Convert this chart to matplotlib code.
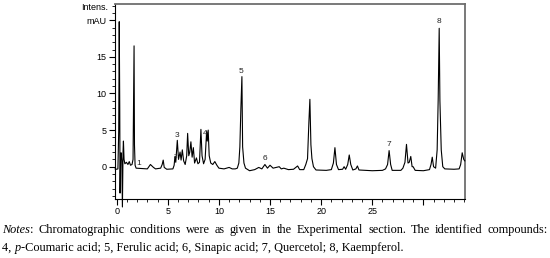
import matplotlib.pyplot as plt
from matplotlib.ticker import MultipleLocator, FixedLocator

# chromatogram trace (time in min, intensity in mAU)
trace_t = [-0.15, 0.0, 0.12, 0.2, 0.25, 0.30, 0.33, 0.38, 0.43, 0.50, 0.56, 0.62, 0.66, 0.72,
           0.8, 0.95, 1.1, 1.23, 1.35, 1.5, 1.6, 1.65, 1.70, 1.74, 1.8, 1.9, 2.5, 3.0, 3.15,
           3.3, 3.45, 3.6, 3.8, 4.3, 4.45, 4.55, 4.65, 4.9, 5.5, 5.62, 5.7, 5.78, 5.93, 6.05,
           6.2, 6.3, 6.42, 6.55, 6.7, 6.85, 6.94, 7.05, 7.15, 7.26, 7.38, 7.5, 7.62, 7.8,
           7.95, 8.1, 8.24, 8.35, 8.5, 8.65, 8.8, 8.86, 8.95, 9.05, 9.2, 9.4, 9.6, 9.8, 10.0,
           10.5, 11.0, 11.3, 11.6, 11.8, 11.95, 12.05, 12.15, 12.25, 12.32, 12.45, 12.6,
           13.0, 13.5, 13.9, 14.2, 14.5, 14.75, 15.0, 15.3, 15.9, 16.1, 16.35, 16.8, 17.3,
           17.7, 17.9, 18.3, 18.5, 18.67, 18.8, 18.9, 19.0, 19.1, 19.25, 19.5, 20.5, 21.0,
           21.2, 21.35, 21.5, 21.7, 22.1, 22.25, 22.4, 22.6, 22.75, 22.9, 23.1, 23.4, 23.55,
           23.7, 25.0, 26.0, 26.3, 26.5, 26.65, 26.8, 26.95, 27.8, 28.0, 28.2, 28.35, 28.5,
           28.62, 28.77, 28.9, 29.0, 29.2, 30.0, 30.6, 30.75, 30.87, 31.0, 31.2, 31.35,
           31.45, 31.55, 31.62, 31.75, 31.9, 32.1, 33.0, 33.5, 33.65, 33.8, 33.95, 34.05]
trace_v = [-0.3, -0.35, -0.3, 5.0, 19.8, 8.0, -3.6, 1.0, 1.9, 0.8, -5.5, 2.0, 3.5, 1.0,
           0.4, 0.6, 0.3, 0.7, 0.2, 0.3, 1.0, 8.4, 16.5, 3.0, 0.2, -0.2, -0.25, -0.3, 0.0,
           0.3, 0.1, -0.1, -0.3, -0.2, 0.3, 0.9, -0.1, -0.35, -0.3, 0.2, 1.4, 0.6, 3.6, 1.0,
           2.0, 0.9, 2.3, 0.8, 0.3, 1.5, 4.55, 1.5, 2.0, 3.4, 1.3, 2.6, 0.5, 1.2,
           0.4, 0.6, 5.1, 1.5, 0.4, 1.0, 4.8, 3.5, 5.0, 1.5, 0.5, 0.3, 0.7, 0.2, -0.2,
           -0.3, -0.1, -0.3, -0.3, -0.2, 0.5, 2.7, 8.0, 12.3, 2.7, 0.5, -0.2,
           -0.55, -0.4, -0.1, -0.3, 0.3, -0.2, 0.2, -0.2, 0.0, -0.3, -0.2, -0.4, -0.35,
           0.1, -0.4, -0.4, 0.3, 1.1, 6.0, 9.2, 3.0, 1.1, 0.0, -0.45, -0.5, -0.4,
           0.5, 2.6, 0.3, -0.4, -0.35, 0.0, -0.35, 0.3, 1.6, 0.3, -0.45, -0.3, 0.1,
           -0.45, -0.55, -0.5, -0.3, 0.3, 2.2, 0.3, -0.5, -0.5, -0.2, 0.6, 3.05, 0.5,
           0.6, 1.4, 0.0, 0.0, -0.5, -0.55, -0.4, 0.3, 1.3, 0.0, -0.2, 2.3,
           9.1, 18.9, 9.0, 2.3, 0.0, -0.3, -0.35, -0.3, 0.3, 1.9, 1.0, 0.8]

# peak numbers and where they are written
peak_labels = ['1', '2', '3', '4', '5', '6', '7', '8']
peak_label_t = [2.2, 5.7, 5.87, 8.7, 12.2, 14.5, 26.65, 31.55]
peak_label_v = [0.45, 1.35, 4.3, 4.55, 12.95, 1.1, 3.0, 19.8]
peak_label_size = [6, 4.5, 6, 6, 6, 6, 6, 6]

x_ticks = [0, 5, 10, 15, 20, 25, 30]
x_tick_labels = ['0', '5', '10', '15', '20', '25', '']
y_ticks = [0, 5, 10, 15, 20]
y_tick_labels = ['0', '5', '10', '15', 'mAU']

caption_line1 = 'Notes: Chromatographic conditions were as given in the Experimental section. The identified compounds:'
caption_line2 = [('4, ', False), ('p', True),
                 ('-Coumaric acid; 5, Ferulic acid; 6, Sinapic acid; 7, Quercetol; 8, Kaempferol.', False)]

plt.rcParams['font.family'] = ['Liberation Sans', 'DejaVu Sans']

fig = plt.figure(figsize=(5.5, 2.58), dpi=100)
ax = fig.add_axes([0.209, 0.229, 0.636, 0.755])

ax.plot(trace_t, trace_v, color='black', linewidth=0.8, clip_on=False, zorder=3)

for lab, t, v, s in zip(peak_labels, peak_label_t, peak_label_v, peak_label_size):
    ax.text(t, v, lab, fontsize=s, ha='center', va='center', color='#222222')

ax.set_xlim(-0.17, 34.05)
ax.set_ylim(-4.4, 22.2)

ax.xaxis.set_major_locator(FixedLocator(x_ticks))
ax.set_xticklabels(x_tick_labels)
ax.xaxis.set_minor_locator(MultipleLocator(1))
ax.yaxis.set_major_locator(FixedLocator(y_ticks))
ax.set_yticklabels(y_tick_labels)
ax.yaxis.set_minor_locator(MultipleLocator(1))

ax.tick_params(axis='both', which='major', direction='out', length=4, width=0.8,
               labelsize=6.5, pad=2, color='black')
ax.tick_params(axis='both', which='minor', direction='out', length=2, width=0.6, color='black')
ax.tick_params(top=False, right=False)

ax.spines['left'].set_color('black')
ax.spines['bottom'].set_color('black')
ax.spines['left'].set_linewidth(0.8)
ax.spines['bottom'].set_linewidth(0.8)
ax.spines['top'].set_color('#6e6e6e')
ax.spines['right'].set_color('#6e6e6e')
ax.spines['top'].set_linewidth(1.3)
ax.spines['right'].set_linewidth(1.3)

ax.text(29.8, -1.0, 'Time [min]', transform=ax.get_xaxis_transform(), fontsize=6.5,
        ha='left', va='center')
ax.text(-0.02, 0.985, 'Intens.', transform=ax.transAxes, fontsize=6.5, ha='right', va='center')

# caption: first line justified across the figure width, second line plain
fig.canvas.draw()
renderer = fig.canvas.get_renderer()
cap_size = 8.8
cap_font = ['Liberation Serif', 'DejaVu Serif']
W = fig.bbox.width


def put_runs(runs, x, y):
    # place styled pieces one after another, return x after the last one
    for txt, it in runs:
        t = fig.text(x / W, y, txt, fontsize=cap_size, family=cap_font,
                     style='italic' if it else 'normal', ha='left', va='baseline')
        x += t.get_window_extent(renderer).width
    return x


def runs_width(runs):
    w = 0
    for txt, it in runs:
        t = fig.text(0.5, 0.5, txt, fontsize=cap_size, family=cap_font,
                     style='italic' if it else 'normal')
        w += t.get_window_extent(renderer).width
        t.remove()
    return w


words1 = [[(w, False)] for w in caption_line1.split()]
words1[0] = [('Notes', True), (':', False)]
widths1 = [runs_width(w) for w in words1]
x0, x1 = 0.004 * W, 0.996 * W
gap = (x1 - x0 - sum(widths1)) / (len(words1) - 1)
x = x0
y1 = 1 - 233.0 / 258
for wd, w in zip(words1, widths1):
    put_runs(wd, x, y1)
    x += w + gap

put_runs(caption_line2, x0, 1 - 250.5 / 258)

fig.savefig('out.png', dpi=100)
